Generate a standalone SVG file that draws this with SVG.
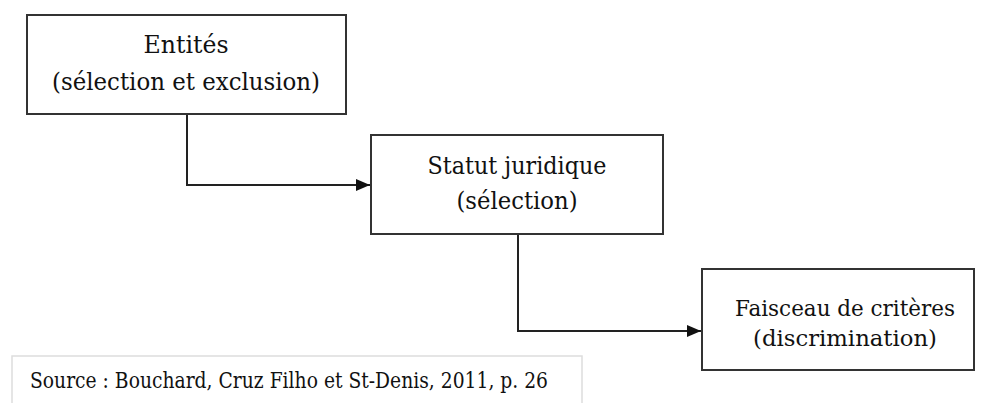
<svg xmlns="http://www.w3.org/2000/svg" width="984" height="403" viewBox="0 0 984 403">
<style>
.box{fill:#fff;stroke:#333;stroke-width:2}
.lbl{font-family:'DejaVu Serif','Liberation Serif',serif;font-size:25px;fill:#111;text-anchor:middle}
.con{fill:none;stroke:#222;stroke-width:2}
.src{font-family:'DejaVu Serif','Liberation Serif',serif;font-size:23px;fill:#111}
</style>
<defs>
<marker id="arr" viewBox="0 0 14 12" refX="14" refY="6" markerWidth="14" markerHeight="12" markerUnits="userSpaceOnUse" orient="auto">
<path d="M0,0 L14,6 L0,12 Z" fill="#111"/>
</marker>
</defs>
<rect width="984" height="403" fill="#fff"/>
<g id="connectors">
<path class="con" d="M187,114 V185 H370" marker-end="url(#arr)"/>
<path class="con" d="M518,234 V331 H701" marker-end="url(#arr)"/>
</g>
<g id="node-entites">
<rect class="box" x="27" y="15" width="319" height="99"/>
<text class="lbl" x="186" y="53" textLength="85" lengthAdjust="spacingAndGlyphs">Entités</text>
<text class="lbl" x="186" y="90" textLength="268" lengthAdjust="spacingAndGlyphs">(sélection et exclusion)</text>
</g>
<g id="node-statut">
<rect class="box" x="371" y="135" width="292" height="99"/>
<text class="lbl" x="517" y="174" textLength="179" lengthAdjust="spacingAndGlyphs">Statut juridique</text>
<text class="lbl" x="517" y="209" textLength="121" lengthAdjust="spacingAndGlyphs">(sélection)</text>
</g>
<g id="node-faisceau">
<rect class="box" x="702" y="269" width="272" height="101"/>
<text class="lbl" x="735" y="316" style="text-anchor:start;font-size:23px" textLength="220" lengthAdjust="spacingAndGlyphs">Faisceau de critères</text>
<text class="lbl" x="753" y="346" style="text-anchor:start;font-size:23px" textLength="184" lengthAdjust="spacingAndGlyphs">(discrimination)</text>
</g>
<g id="source">
<rect x="12" y="356" width="570" height="60" fill="#fff" stroke="#ddd" stroke-width="1.5"/>
<text class="src" x="30" y="388" textLength="518" lengthAdjust="spacingAndGlyphs">Source : Bouchard, Cruz Filho et St-Denis, 2011, p. 26</text>
</g>
</svg>
